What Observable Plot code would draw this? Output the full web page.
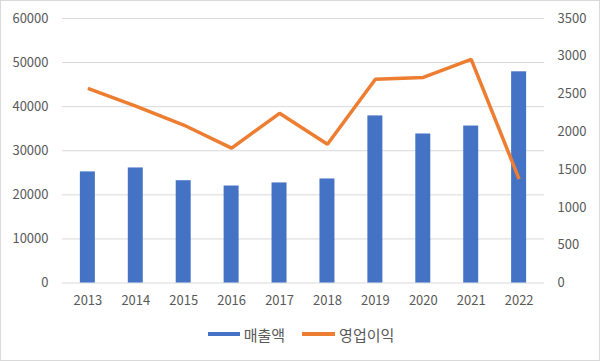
<!DOCTYPE html>
<html><head><meta charset="utf-8">
<script src="https://cdn.jsdelivr.net/npm/d3@7"></script>
<script src="https://cdn.jsdelivr.net/npm/@observablehq/plot@0.6"></script>
<style>
html,body{margin:0;padding:0;background:#fff;}
#wrap{position:relative;width:600px;height:361px;box-sizing:border-box;border:1px solid #d9d9d9;overflow:hidden;font-family:"Noto Sans CJK KR","Noto Sans",sans-serif;}
#chart{position:absolute;left:-1px;top:-1px;}
#legend{position:absolute;left:0;top:322px;width:600px;height:22px;display:flex;justify-content:center;align-items:center;font-size:15px;color:#595959;}
.sw{display:inline-block;width:32px;height:4px;margin-right:4px;}
.item{display:flex;align-items:center;}
</style></head>
<body>
<div id="wrap"><div id="chart"></div>
<div id="legend">
  <div class="item"><span class="sw" style="background:#4472C4"></span><span>매출액</span></div>
  <div class="item" style="margin-left:17px"><span class="sw" style="background:#ED7D31;width:33px"></span><span>영업이익</span></div>
</div></div>
<script>
const years = ["2013","2014","2015","2016","2017","2018","2019","2020","2021","2022"];
const sales = [25200, 26100, 23200, 22000, 22700, 23600, 37900, 33800, 35600, 47900];
const profit = [2575, 2340, 2090, 1785, 2245, 1835, 2695, 2720, 2960, 1375];
const leftTicks = [0,10000,20000,30000,40000,50000,60000];
const rightTicks = [0,500,1000,1500,2000,2500,3000,3500];
const leftMax = 60000, rightMax = 3500;
const k = leftMax / rightMax;

const rows = years.map((y,i)=>({year:y, sales:sales[i], profit:profit[i]*k}));

const chart = Plot.plot({
  width: 600, height: 320,
  marginLeft: 62, marginRight: 55, marginTop: 18, marginBottom: 37,
  style: {fontFamily: '"Noto Sans CJK KR","Noto Sans",sans-serif', fontSize: "13px", color: "#595959", background: "transparent"},
  x: {domain: years, type: "band", paddingInner: 0.69, paddingOuter: 0.345, label: null},
  y: {domain: [0, leftMax], label: null},
  marks: [
    Plot.gridY(leftTicks, {stroke: "#d9d9d9", strokeOpacity: 1, strokeWidth: 1}),
    Plot.barY(rows, {x: "year", y: "sales", fill: "#4472C4"}),
    Plot.line(rows, {x: "year", y: "profit", stroke: "#ED7D31", strokeWidth: 3.5, strokeLinejoin: "miter", strokeLinecap: "butt"}),
    Plot.axisY(leftTicks, {anchor: "left", tickSize: 0, tickPadding: 14, tickFormat: d => String(d), label: null, fill: "#595959"}),
    Plot.axisY(rightTicks.map(v => v*k), {anchor: "right", tickSize: 0, tickPadding: 13, tickFormat: d => String(Math.round(d/k)), label: null, fill: "#595959"}),
    Plot.axisX({tickSize: 0, tickPadding: 13, label: null, fill: "#595959"})
  ]
});
document.getElementById("chart").appendChild(chart);
</script>
</body></html>
